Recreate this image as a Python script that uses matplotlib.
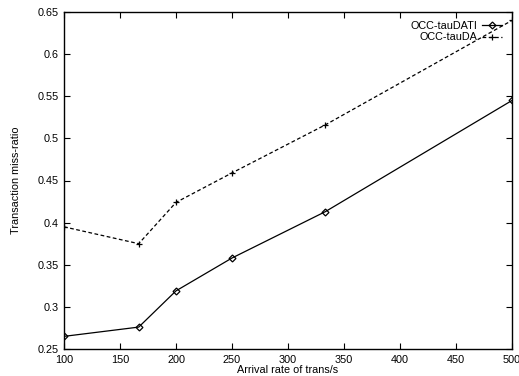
import matplotlib
matplotlib.use("Agg")
import matplotlib.pyplot as plt

arrival = [100, 166.7, 200, 250, 333.3, 500]
tauDATI = [0.265, 0.276, 0.319, 0.358, 0.413, 0.545]
tauDA = [0.395, 0.375, 0.424, 0.459, 0.516, 0.640]
xticks = [100, 150, 200, 250, 300, 350, 400, 450, 500]
yticks = [0.25, 0.3, 0.35, 0.4, 0.45, 0.5, 0.55, 0.6, 0.65]

plt.rcParams['font.family'] = ['Liberation Sans', 'DejaVu Sans']
fig = plt.figure(figsize=(5.19, 3.76), dpi=100)
ax = fig.add_axes([64/519, 1-349/376, (512-64)/519, (349-12)/376])

ax.plot(arrival, tauDATI, '-', color='black', lw=0.9, marker='D', ms=3.5,
        mfc='none', mec='black', mew=0.9, label='OCC-tauDATI')
ax.plot(arrival, tauDA, '--', color='black', lw=0.9, dashes=(3, 2), marker='+', ms=5,
        mew=0.9, label='OCC-tauDA')

ax.set_xlim(100, 500)
ax.set_ylim(0.25, 0.65)
ax.set_xticks(xticks)
ax.set_yticks(yticks)
ax.set_xticklabels([str(v) for v in xticks])
ax.set_yticklabels([f"{v:g}" for v in yticks])
ax.tick_params(direction='in', top=True, right=True, length=4, width=0.8,
               labelsize=7.8, pad=4)
for s in ax.spines.values():
    s.set_linewidth(1.0)

ax.set_xlabel('Arrival rate of trans/s', fontsize=7.8, labelpad=0)
ax.set_ylabel('Transaction miss-ratio', fontsize=7.8, labelpad=12)

leg = ax.legend(loc='upper right', bbox_to_anchor=(0.995, 0.995), frameon=False,
                markerfirst=False, fontsize=7.8, handlelength=1.9,
                handletextpad=0.4, labelspacing=0.1, borderaxespad=0.3)
for t in leg.get_texts():
    t.set_ha('right')

fig.savefig('out.png', dpi=100)
